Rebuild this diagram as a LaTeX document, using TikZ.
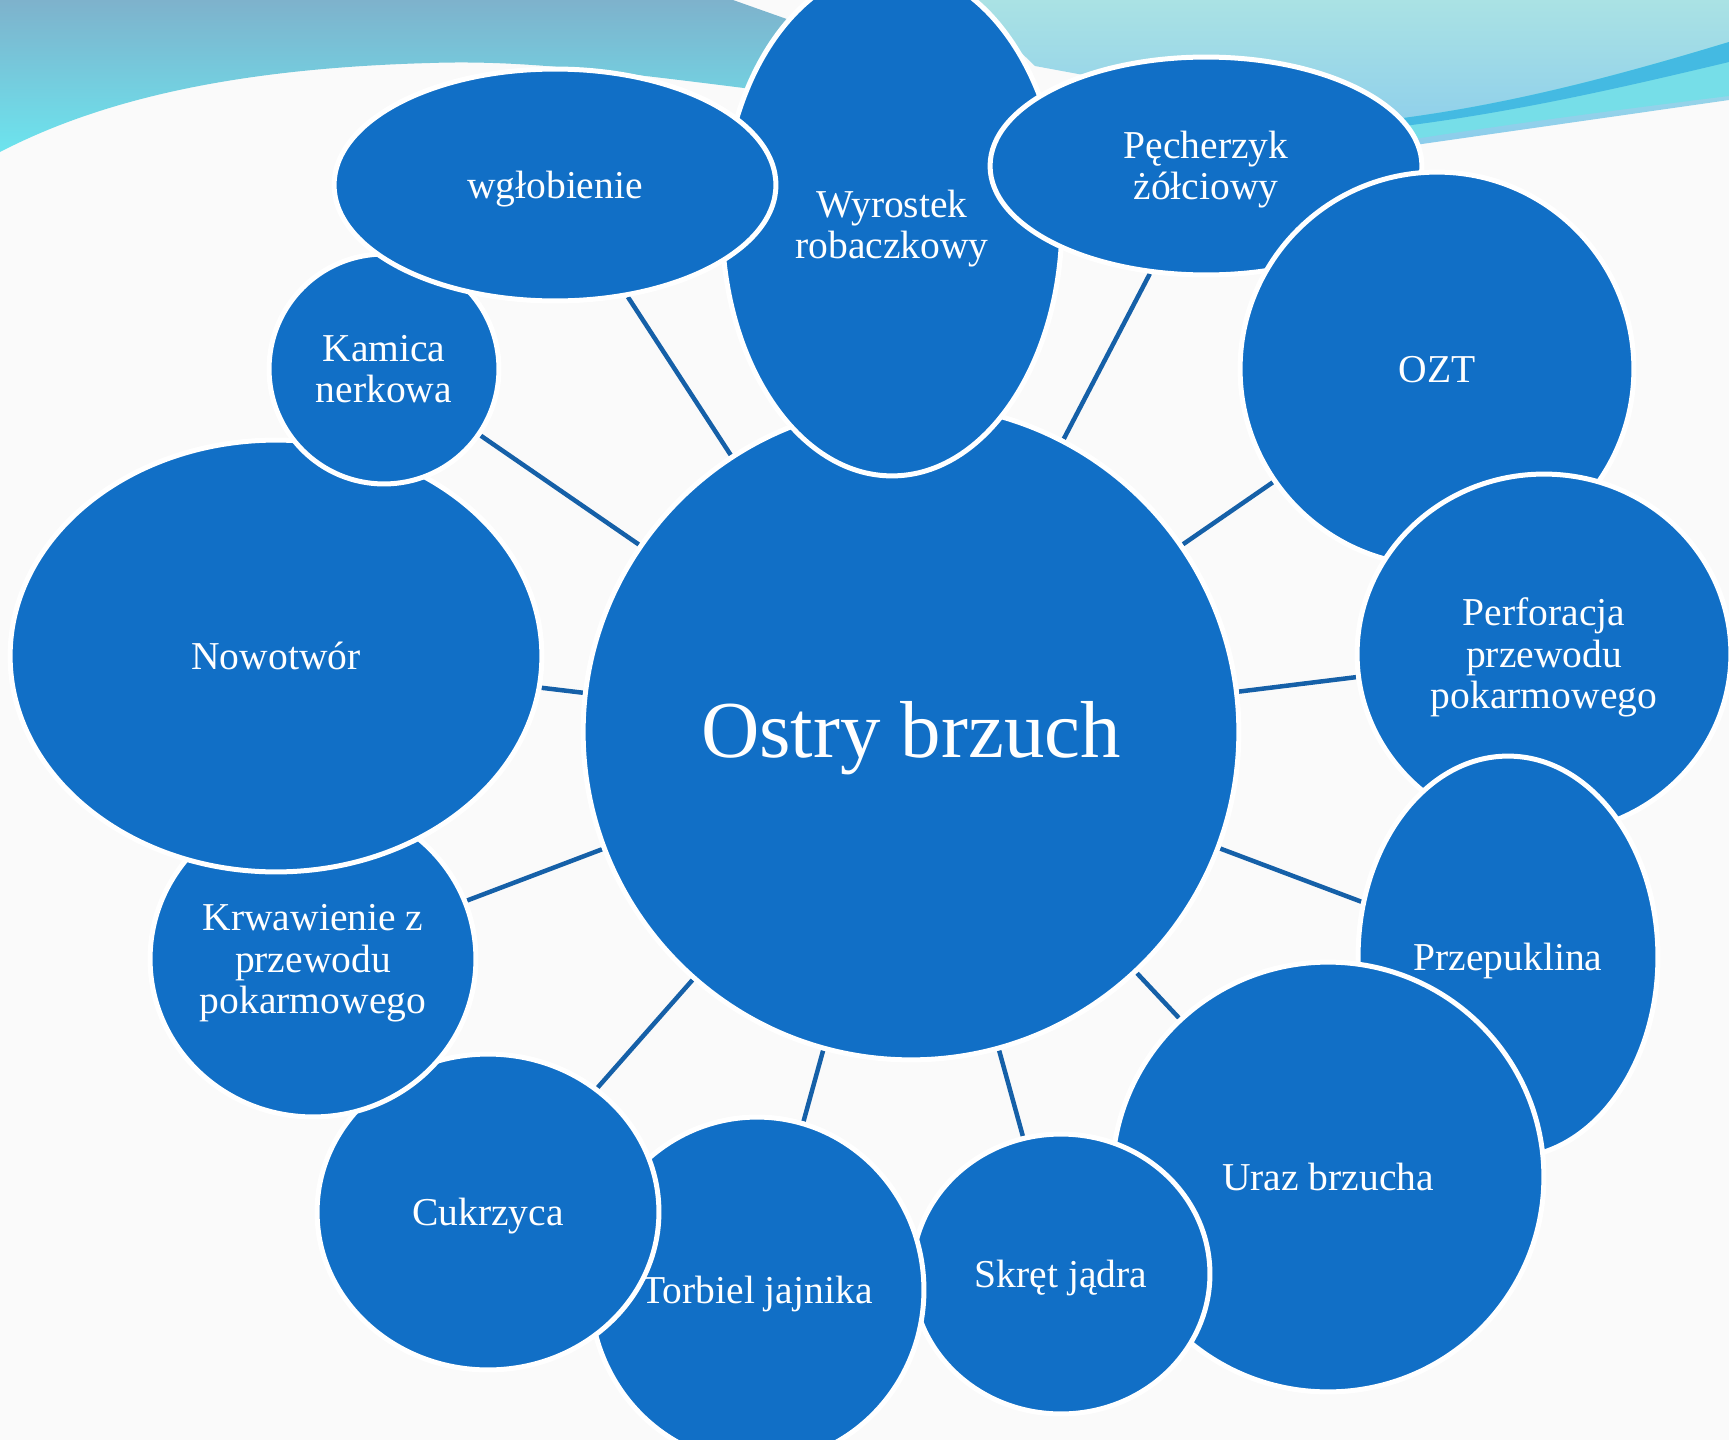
\documentclass[tikz,border=0pt]{standalone}
\usepackage{fontspec}
\setmainfont{Liberation Serif}
\usetikzlibrary{shapes.geometric,backgrounds}
\definecolor{bubble}{RGB}{17,111,198}
\definecolor{conn}{RGB}{21,96,168}
\definecolor{paper}{RGB}{250,250,250}
\definecolor{lefttop}{RGB}{126,178,204}
\definecolor{leftbot}{RGB}{108,228,238}
\definecolor{righttop}{RGB}{170,226,228}
\definecolor{rightbot}{RGB}{138,204,236}
\definecolor{stripe}{RGB}{68,186,226}
\definecolor{cyanband}{RGB}{118,222,232}
\newcommand\bubtext[2][2.8pt]{\raisebox{-#1}[\height][\depth]{\begin{tabular}{@{}c@{}}#2\end{tabular}}}
\tikzset{
  bub/.style={ellipse, fill=bubble, draw=white, line width=0.1cm, inner sep=0pt,
    text=white, font=\fontsize{22.5}{23.5}\selectfont},
  sz/.style 2 args={minimum width=#1*0.04cm, minimum height=#2*0.04cm},
  link/.style={draw=conn, line width=0.09cm}}
\begin{document}
\begin{tikzpicture}[x=0.02cm,y=-0.02cm]
\useasboundingbox (0,0) rectangle (1729,1440);

\node[bub, sz={328}{328}, font=\fontsize{46}{52}\selectfont] (c) at (911,732) {\bubtext[4pt]{Ostry brzuch}};
\node[bub, sz={170}{254}] (wyr) at (892,222) {\bubtext[4.5pt]{Wyrostek\\robaczkowy}};
\node[bub, sz={216}{109}] (pech) at (1206,166) {\bubtext{Pęcherzyk\\żółciowy}};
\node[bub, sz={197}{197}] (ozt) at (1437,369) {\bubtext{OZT}};
\node[bub, sz={187}{180}] (perf) at (1544,654) {\bubtext{Perforacja\\przewodu\\pokarmowego}};
\node[bub, sz={150}{201}] (przep) at (1508,957) {\bubtext{Przepuklina}};
\node[bub, sz={216}{215}] (uraz) at (1328,1177) {\bubtext{Uraz brzucha}};
\node[bub, sz={149}{140}] (skret) at (1061,1274) {\bubtext{Skręt jądra}};
\node[bub, sz={167}{173}] (torb) at (757,1290) {\bubtext{Torbiel jajnika}};
\node[bub, sz={171}{158}] (cukr) at (488,1212) {\bubtext{Cukrzyca}};
\node[bub, sz={163}{158}] (krw) at (313,959) {\bubtext{Krwawienie z\\przewodu\\pokarmowego}};
\node[bub, sz={266}{216}] (now) at (276,656) {\bubtext{Nowotwór}};
\node[bub, sz={115}{115}] (kam) at (384,369) {\bubtext{Kamica\\nerkowa}};
\node[bub, sz={221}{116}] (wgl) at (555,185) {\bubtext{wgłobienie}};

\begin{scope}[on background layer]
  \fill[paper] (0,0) rectangle (1729,1440);
  % left coloured band
  \path[top color=lefttop, bottom color=leftbot]
    (0,0) -- (733,0) -- (860,45) -- (760,90)
    .. controls (600,70) and (520,60) .. (430,63)
    .. controls (250,68) and (110,95) .. (0,152) -- cycle;
  % right coloured band
  \path[top color=righttop, bottom color=rightbot]
    (967,0) -- (1729,0) -- (1729,100) -- (1380,150) -- (1100,78) -- (1035,66) -- cycle;
  \fill[cyanband] (1729,42) .. controls (1620,75) and (1500,108) .. (1370,122)
    -- (1370,146) .. controls (1480,128) and (1600,112) .. (1729,96) -- cycle;
  \fill[stripe] (1729,42) .. controls (1620,75) and (1500,108) .. (1370,122)
    -- (1370,130) .. controls (1500,116) and (1620,88) .. (1729,62) -- cycle;
  % connectors
  \foreach \s in {wyr,pech,ozt,perf,przep,uraz,skret,torb,cukr,krw,now,kam,wgl}
    \draw[link] (c) -- (\s);
\end{scope}
\end{tikzpicture}
\end{document}
